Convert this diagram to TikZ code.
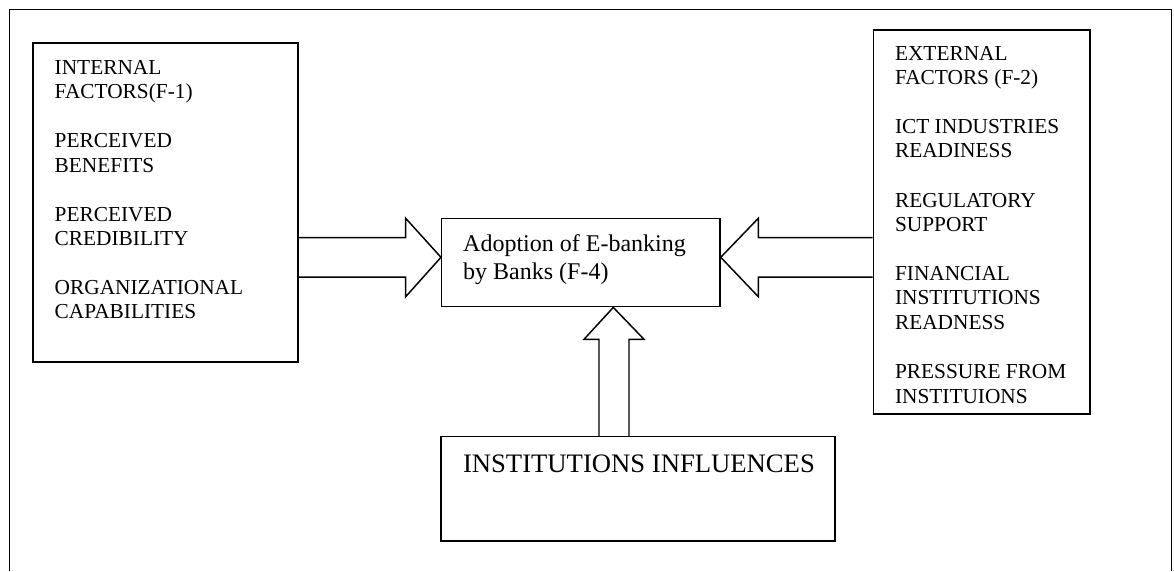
\documentclass[tikz,border=0pt]{standalone}
\usepackage{fontspec}
\setmainfont{Liberation Serif}
\usetikzlibrary{fit}
\begin{document}
\begin{tikzpicture}[x=0.75pt,y=-0.75pt,line width=1.1pt,
  frame/.style={draw,inner sep=0pt,line width=1.1pt},
  blockarrow/.style={draw,line width=1.1pt,line join=miter},
  smalltxt/.style={anchor=base west,inner sep=0pt,align=left,font=\fontsize{16pt}{18.375pt}\selectfont},
  midtxt/.style={anchor=base west,inner sep=0pt,font=\fontsize{18pt}{21pt}\selectfont},
  bigtxt/.style={anchor=base west,inner sep=0pt,font=\fontsize{20pt}{23pt}\selectfont}]
\useasboundingbox (0,0) rectangle (1174,571);
% outer frame (open at the bottom)
\coordinate (fbl) at (9.3,571);
\coordinate (ftl) at (9.3,9.3);
\coordinate (ftr) at (1171.5,9.3);
\coordinate (fbr) at (1171.5,571);
\draw (fbl) -- (ftl) -- (ftr) -- (fbr);
% boxes
\node[frame,fit={(33,43) (298,362)}] (L) {};
\node[frame,fit={(873.3,30) (1090,414)}] (R) {};
\node[frame,fit={(441.7,218.3) (720,306.7)}] (C) {};
\node[frame,fit={(441,436.7) (835,541)}] (B) {};
% texts
\node[smalltxt] (Lt) at (54,74) {\vtop{\hbox{INTERNAL}\hbox{FACTORS(F-1)}\hbox{}\hbox{PERCEIVED}\hbox{BENEFITS}\hbox{}\hbox{PERCEIVED}\hbox{CREDIBILITY}\hbox{}\hbox{ORGANIZATIONAL}\hbox{CAPABILITIES}}};
\node[smalltxt] (Rt) at (894.3,60) {\vtop{\hbox{EXTERNAL}\hbox{FACTORS (F-2)}\hbox{}\hbox{ICT INDUSTRIES}\hbox{READINESS}\hbox{}\hbox{REGULATORY}\hbox{SUPPORT}\hbox{}\hbox{FINANCIAL}\hbox{INSTITUTIONS}\hbox{READNESS}\hbox{}\hbox{PRESSURE FROM}\hbox{INSTITUIONS}}};
\node[midtxt] (Ct) at (462.5,251.5) {\vtop{\hbox{Adoption of E-banking}\hbox{by Banks (F-4)}}};
\node[bigtxt] (Bt) at (462.3,472.7) {INSTITUTIONS INFLUENCES};
% left block arrow
\draw[blockarrow] (L.east |- 0,237.7) -- (405.7,237.7) -- (405.7,218.3) -- (C.west |- 0,257.3)
  -- (405.7,296.7) -- (405.7,277.2) -- (L.east |- 0,277.2);
% right block arrow
\draw[blockarrow] (R.west |- 0,237.7) -- (758.3,237.7) -- (758.3,218.3) -- (C.east |- 0,257.3)
  -- (758.3,296.7) -- (758.3,277.2) -- (R.west |- 0,277.2);
% up block arrow
\draw[blockarrow] (599,0 |- B.north) -- (599,339.3) -- (584,339.3) -- (613.3,0 |- C.south)
  -- (644,339.3) -- (629,339.3) -- (629,0 |- B.north);
\end{tikzpicture}
\end{document}
